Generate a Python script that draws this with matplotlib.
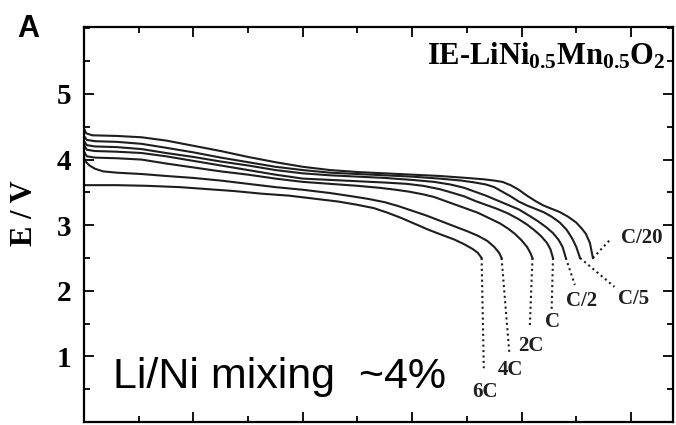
import numpy as np
import matplotlib
matplotlib.use("Agg")
import matplotlib.pyplot as plt
from matplotlib.ticker import MultipleLocator

plt.rcParams["font.family"] = "Liberation Serif"
plt.rcParams["mathtext.fontset"] = "custom"
plt.rcParams["mathtext.rm"] = "Liberation Serif:bold"
plt.rcParams["mathtext.it"] = "Liberation Serif:bold"
plt.rcParams["mathtext.bf"] = "Liberation Serif:bold"

### discharge curves (capacity, E/V)
rates = ["C/20", "C/5", "C/2", "C", "2C", "4C", "6C"]

cap_c20 = [0, 0.8, 3, 12, 21, 30, 40, 50, 60, 70, 80, 90, 100, 110, 120, 130, 140, 146, 150, 153, 156,
           159, 162, 165, 168, 171, 174, 177, 180, 182, 183.5, 185, 186.1]
e_c20 = [4.47, 4.40, 4.37, 4.36, 4.34, 4.29, 4.21, 4.13, 4.04, 3.96, 3.89, 3.84, 3.81, 3.79, 3.77, 3.75, 3.72,
         3.70, 3.68, 3.66, 3.61, 3.54, 3.45, 3.37, 3.30, 3.25, 3.20, 3.13, 3.04, 2.95, 2.87, 2.73, 2.50]

cap_c5 = [0, 1, 4, 12, 21, 30, 40, 50, 60, 70, 80, 90, 100, 110, 120, 130, 138, 143, 147, 150, 153,
          156, 159, 162, 165, 168, 171, 174, 176.5, 178.5, 180, 181.4]
e_c5 = [4.36, 4.30, 4.28, 4.27, 4.24, 4.18, 4.11, 4.03, 3.96, 3.89, 3.84, 3.80, 3.78, 3.76, 3.74, 3.71, 3.68,
        3.65, 3.62, 3.58, 3.51, 3.44, 3.36, 3.30, 3.25, 3.20, 3.13, 3.04, 2.93, 2.80, 2.67, 2.50]

cap_c2 = [0, 1, 4, 12, 21, 30, 40, 50, 60, 70, 80, 90, 100, 110, 120, 128, 134, 139, 143, 147, 151,
          155, 159, 163, 166, 169, 171.5, 173.5, 175, 176.2]
e_c2 = [4.28, 4.22, 4.20, 4.19, 4.16, 4.10, 4.04, 3.97, 3.91, 3.84, 3.79, 3.76, 3.74, 3.72, 3.69, 3.66, 3.62,
        3.57, 3.51, 3.45, 3.38, 3.31, 3.24, 3.14, 3.06, 2.97, 2.88, 2.78, 2.67, 2.50]

cap_c1 = [0, 1, 4, 12, 21, 30, 40, 50, 60, 70, 80, 90, 100, 110, 118, 124, 130, 135, 139, 143, 147,
          151, 155, 159, 162, 164.5, 167, 169.3, 170.6, 171.5]
e_c1 = [4.22, 4.15, 4.13, 4.12, 4.10, 4.05, 3.98, 3.91, 3.84, 3.77, 3.71, 3.69, 3.67, 3.65, 3.63, 3.60, 3.55,
        3.49, 3.44, 3.37, 3.31, 3.25, 3.18, 3.09, 3.01, 2.93, 2.84, 2.73, 2.63, 2.50]

cap_2c = [0, 1, 4, 12, 21, 30, 40, 50, 60, 70, 80, 90, 100, 108, 114, 119, 124, 128, 132, 136, 140,
          144, 148, 152, 155, 157.5, 160, 162, 163.2, 164]
e_2c = [4.12, 4.05, 4.03, 4.02, 4.00, 3.94, 3.88, 3.82, 3.77, 3.71, 3.66, 3.63, 3.60, 3.57, 3.54, 3.51, 3.47,
        3.43, 3.37, 3.31, 3.25, 3.19, 3.11, 3.03, 2.95, 2.87, 2.77, 2.67, 2.58, 2.50]

cap_4c = [0, 0.8, 2, 4, 7, 12, 21, 30, 40, 50, 60, 70, 80, 90, 98, 104, 110, 115, 120, 125, 130,
          135, 140, 144, 147.5, 150, 151.8, 152.7]
e_4c = [4.02, 3.96, 3.91, 3.86, 3.82, 3.80, 3.78, 3.75, 3.72, 3.68, 3.63, 3.58, 3.54, 3.49, 3.44, 3.40, 3.35,
        3.29, 3.22, 3.15, 3.07, 2.99, 2.91, 2.84, 2.76, 2.67, 2.58, 2.50]

cap_6c = [0, 12, 23, 35, 45, 55, 65, 75, 85, 93, 100, 106, 111, 116, 121, 126, 131, 135.5, 139, 142,
          144, 145.4]
e_6c = [3.61, 3.61, 3.60, 3.58, 3.55, 3.52, 3.48, 3.45, 3.40, 3.36, 3.31, 3.26, 3.19, 3.11, 3.02, 2.93, 2.85,
        2.78, 2.71, 2.64, 2.58, 2.50]

curves = [(cap_c20, e_c20), (cap_c5, e_c5), (cap_c2, e_c2), (cap_c1, e_c1),
          (cap_2c, e_2c), (cap_4c, e_4c), (cap_6c, e_6c)]

# dotted leaders: end of the leader and label position
lead_x = [192.2, 194, 179.5, 171, 163, 155.5, 146.2]
lead_y = [2.77, 2.06, 2.09, 1.71, 1.43, 1.07, 0.82]
lab_x = [204, 201, 182, 171.4, 163.5, 155.8, 146.8]
lab_y = [2.80, 1.88, 1.85, 1.52, 1.16, 0.80, 0.45]

fig = plt.figure(figsize=(6.76, 4.25), dpi=100)
ax = fig.add_axes([0.1243, 0.007, 0.8713, 0.9294])

for (x, y) in curves:
    ax.plot(x, y, color="#1e1e1e", lw=1.5, solid_joinstyle="round")

for i, (x, y) in enumerate(curves):
    ax.plot([x[-1], lead_x[i]], [y[-1], lead_y[i]], color="#1e1e1e", lw=1.5,
            ls=(0, (1, 1.6)))
    ax.text(lab_x[i], lab_y[i], rates[i], fontsize=15, fontweight="bold",
            ha="center", va="center", color="#1e1e1e")

ax.set_xlim(0, 215.4)
ax.set_ylim(0, 6.02)
ax.xaxis.set_major_locator(MultipleLocator(40))
ax.xaxis.set_minor_locator(MultipleLocator(20))
ax.yaxis.set_minor_locator(MultipleLocator(0.5))
ax.set_yticks([1, 2, 3, 4, 5])
ax.tick_params(which="both", direction="in", top=True, right=True, width=1.3,
               labelbottom=False, labelsize=21, pad=9)
ax.tick_params(which="major", length=7)
ax.tick_params(which="minor", length=4)
for lab in ax.get_yticklabels():
    lab.set_fontweight("bold")
for s in ax.spines.values():
    s.set_linewidth(1.6)

ax.set_ylabel("E / V", fontsize=22, fontweight="bold")
ax.yaxis.set_label_coords(-0.076, 0.53)

ax.text(0.988, 0.905, r"IE-LiNi$_{0.5}$Mn$_{0.5}$O$_2$", transform=ax.transAxes,
        fontsize=22, fontweight="bold", ha="right", va="baseline")
ax.text(10.5, 0.52, "Li/Ni mixing  ~4%", fontsize=31, family="Liberation Sans",
        ha="left", va="baseline")
fig.text(0.025, 0.912, "A", fontsize=22, fontweight="bold", family="Liberation Sans",
         ha="left", va="baseline")

fig.savefig("out.png", dpi=100)
